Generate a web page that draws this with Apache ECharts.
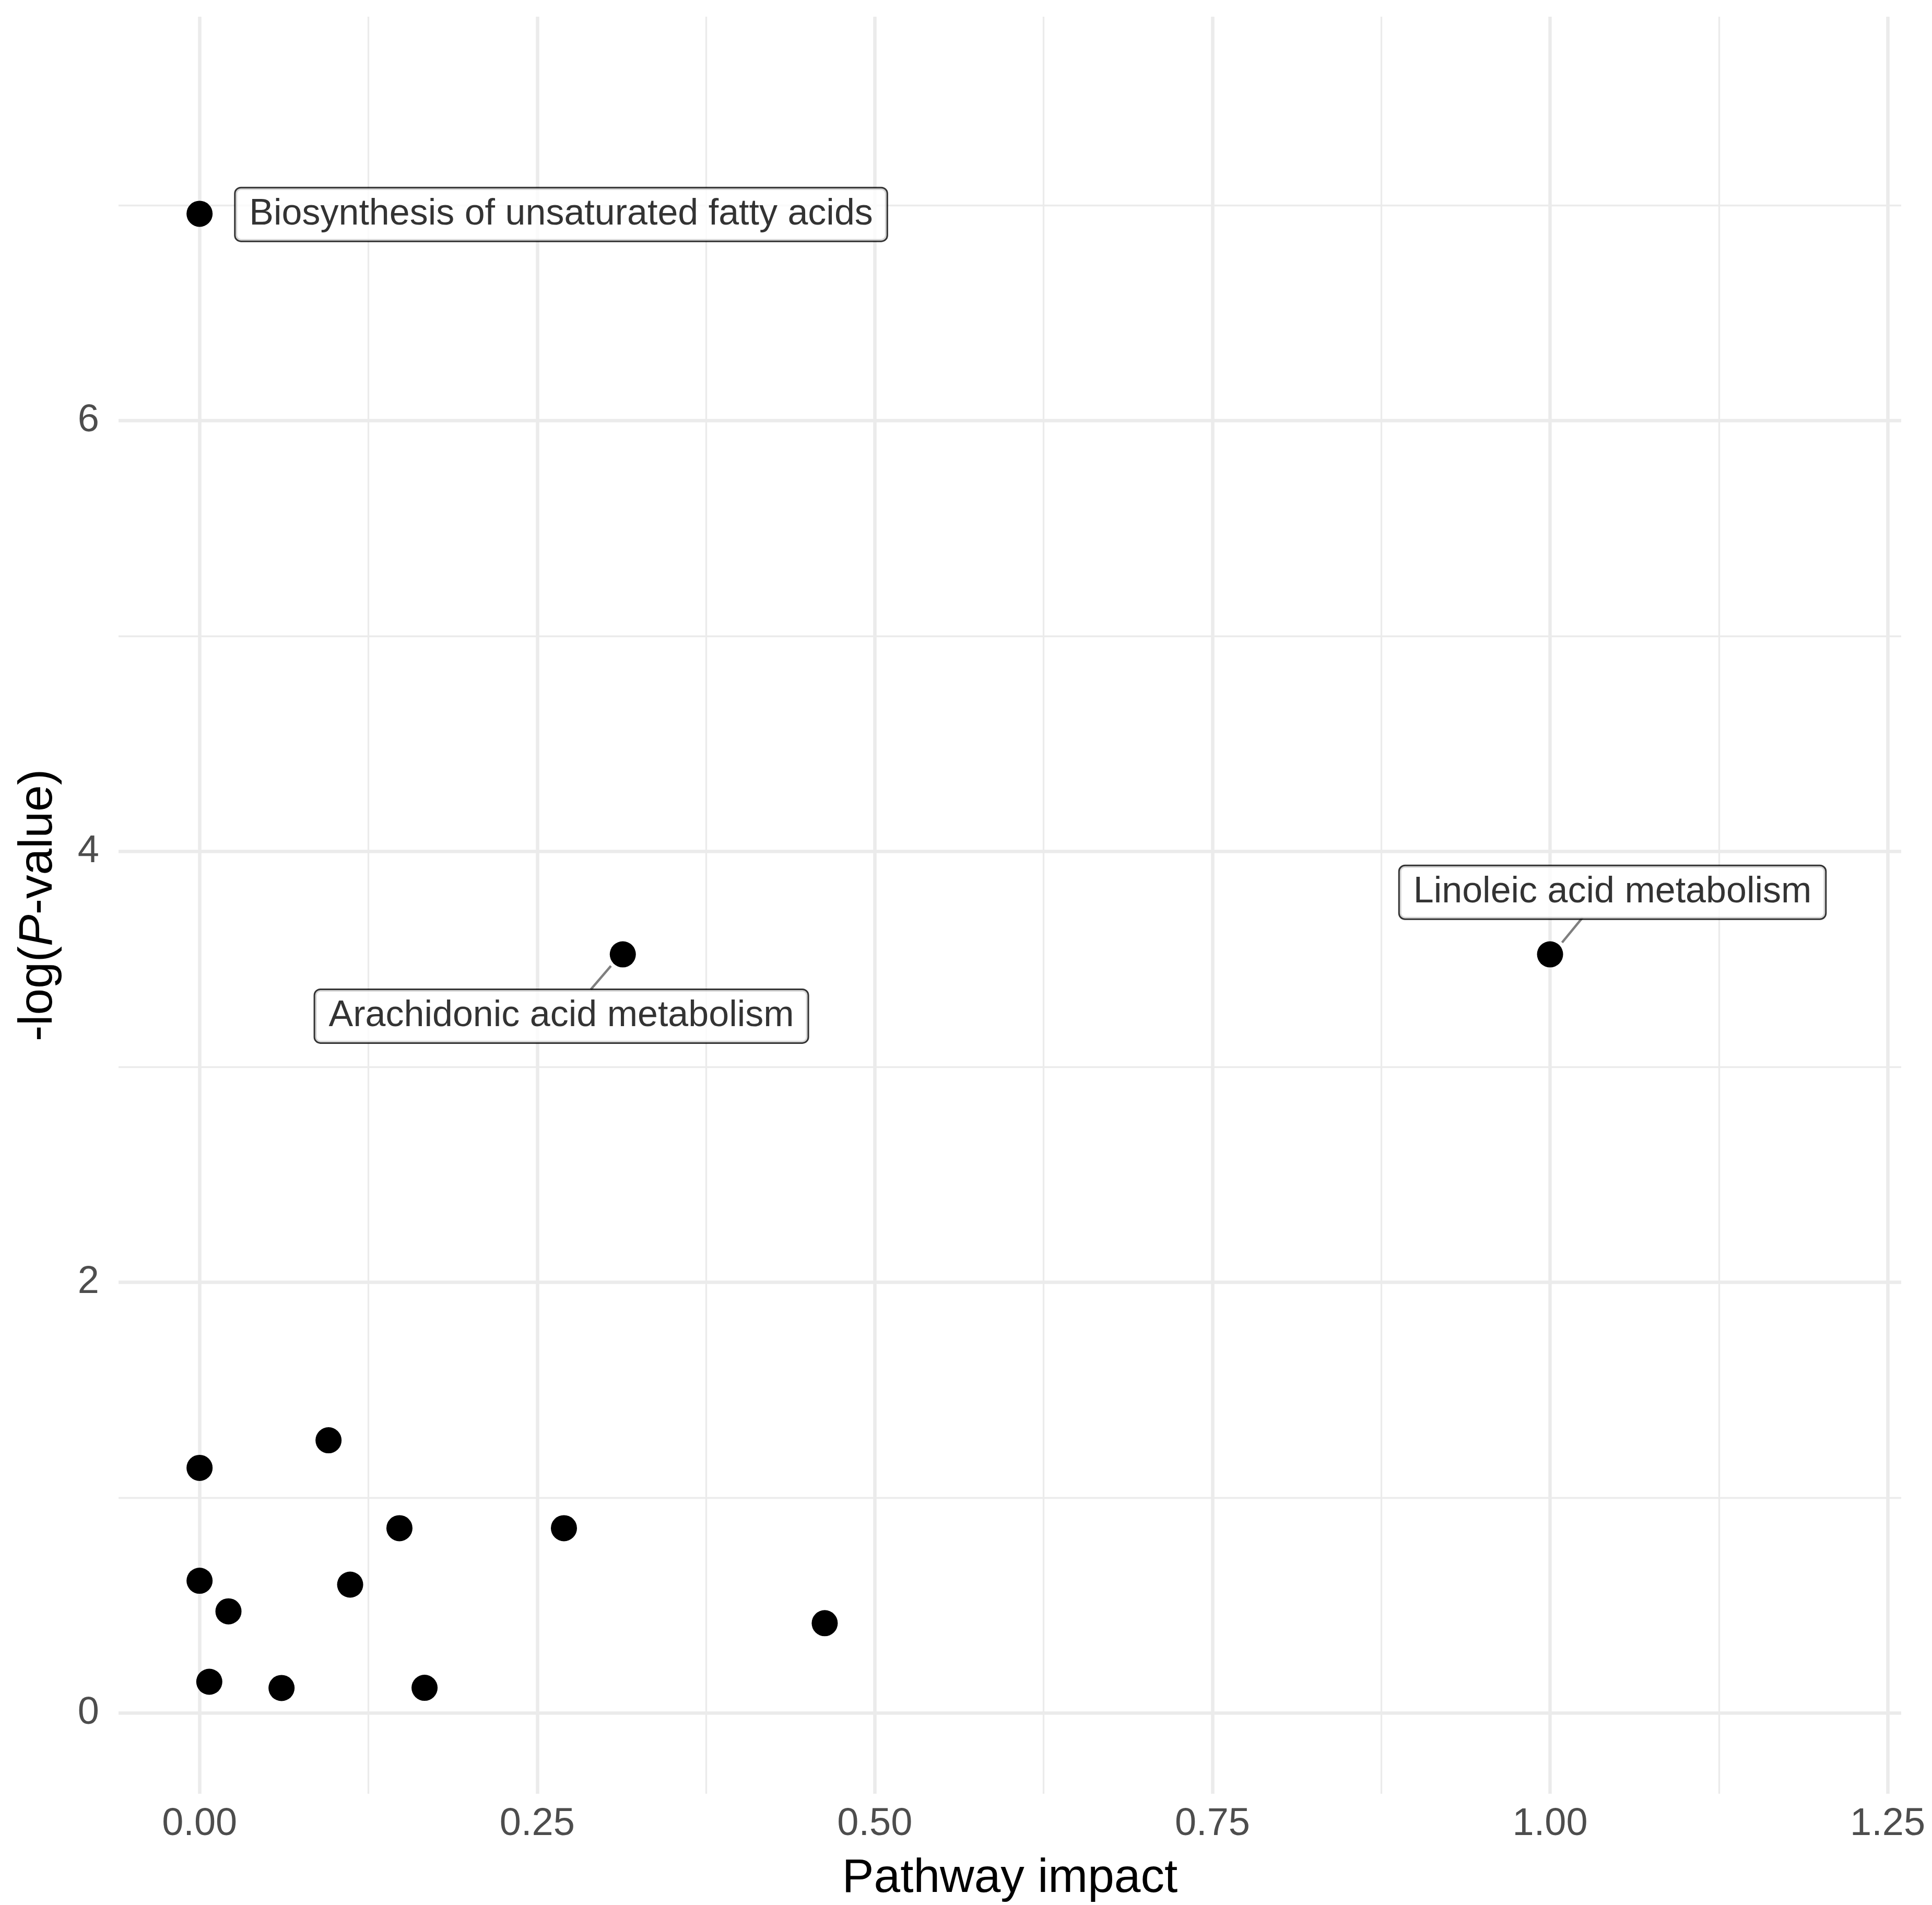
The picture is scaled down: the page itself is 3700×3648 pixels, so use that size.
<!DOCTYPE html>
<html><head><meta charset="utf-8">
<script src="https://cdn.jsdelivr.net/npm/echarts@6/dist/echarts.min.js"></script>
<style>html,body{margin:0;padding:0;background:#fff}#c{width:3700px;height:3648px}</style>
</head><body><div id="c"></div>
<script>
// Data
const impact  = [0, 0.3134, 1.0, 0, 0.0955, 0.148, 0.2698, 0, 0.1115, 0.0214, 0.0072, 0.0607, 0.1666, 0.4629];
const negLogP = [6.96, 3.522, 3.522, 1.138, 1.266, 0.858, 0.858, 0.614, 0.596, 0.472, 0.145, 0.116, 0.117, 0.417];

const labelNames = ['Biosynthesis of unsaturated fatty acids', 'Arachidonic acid metabolism', 'Linoleic acid metabolism'];
const labelX = [0.2677, 0.2679, 1.0462];
const labelY = [6.957, 3.235, 3.810];

// repel segments (from point to label box)
const segStartX = [0.3046, 1.0089];
const segStartY = [3.468, 3.577];
const segEndX   = [0.2897, 1.0241];
const segEndY   = [3.359, 3.693];

const xMajor = [0, 0.25, 0.5, 0.75, 1.0, 1.25];
const xMinor = [0.125, 0.375, 0.625, 0.875, 1.125];
const yMajor = [0, 2, 4, 6];
const yMinor = [1, 3, 5, 7];

const X_MIN = -0.06, X_MAX = 1.26, Y_MIN = -0.375, Y_MAX = 7.875;

const FONT = '"Liberation Sans", Arial, Helvetica, sans-serif';
const GRID = '#EBEBEB';

const chart = echarts.init(document.getElementById('c'), null, {renderer: 'canvas'});

const vLine = v => ({coords: [[v, Y_MIN], [v, Y_MAX]]});
const hLine = v => ({coords: [[X_MIN, v], [X_MAX, v]]});
const majorLines = xMajor.map(vLine).concat(yMajor.map(hLine));
const minorLines = xMinor.map(vLine).concat(yMinor.map(hLine));

const points = impact.map((x, i) => [x, negLogP[i]]);
const labels = labelNames.map((n, i) => ({name: n, value: [labelX[i], labelY[i]]}));
const segs = segStartX.map((x, i) => ({coords: [[x, segStartY[i]], [segEndX[i], segEndY[i]]]}));

chart.setOption({
  animation: false,
  backgroundColor: '#ffffff',
  grid: {left: 227, right: 59, top: 32, bottom: 211, containLabel: false},
  xAxis: {
    type: 'value', min: X_MIN, max: X_MAX,
    axisLine: {show: false}, axisTick: {show: false}, splitLine: {show: false},
    axisLabel: {
      customValues: xMajor, margin: 22, fontSize: 74, color: '#4D4D4D', fontFamily: FONT,
      formatter: v => Number(v).toFixed(2)
    },
    name: 'Pathway impact', nameLocation: 'middle', nameGap: 117,
    nameTextStyle: {fontSize: 91, color: '#000', fontFamily: FONT}
  },
  yAxis: {
    type: 'value', min: Y_MIN, max: Y_MAX,
    axisLine: {show: false}, axisTick: {show: false}, splitLine: {show: false},
    axisLabel: {
      customValues: yMajor, margin: 37, fontSize: 74, color: '#4D4D4D', fontFamily: FONT,
      formatter: v => String(Math.round(v))
    },
    name: '-log({i|P}-value)', nameLocation: 'middle', nameGap: 108,
    nameTextStyle: {fontSize: 91, color: '#000', fontFamily: FONT,
      rich: {i: {fontStyle: 'italic', fontSize: 91, color: '#000', fontFamily: FONT}}}
  },
  series: [
    {
      type: 'lines', coordinateSystem: 'cartesian2d', z: 1, silent: true,
      lineStyle: {color: GRID, width: 3.3, opacity: 1}, data: minorLines
    },
    {
      type: 'lines', coordinateSystem: 'cartesian2d', z: 1, silent: true,
      lineStyle: {color: GRID, width: 6.5, opacity: 1}, data: majorLines
    },
    {
      type: 'lines', coordinateSystem: 'cartesian2d', z: 5, silent: true,
      lineStyle: {color: '#7F7F7F', width: 4.5, opacity: 1}, data: segs
    },
    {
      type: 'scatter', z: 6, symbol: 'circle', symbolSize: 50,
      itemStyle: {color: '#000', opacity: 1}, data: points
    },
    {
      type: 'scatter', z: 7, symbolSize: 1, itemStyle: {color: 'rgba(0,0,0,0)'},
      label: {
        show: true, position: 'inside', formatter: p => p.name,
        fontSize: 70, lineHeight: 70, fontFamily: FONT, color: '#000',
        backgroundColor: '#fff', borderColor: '#000', borderWidth: 3, borderRadius: 10,
        padding: [19, 26, 11, 26]
      },
      data: labels
    }
  ]
});
</script></body></html>
